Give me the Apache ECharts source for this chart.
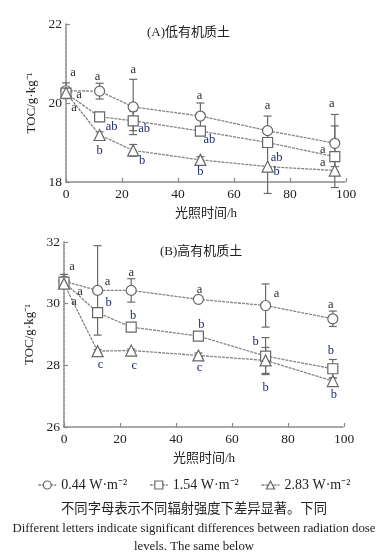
<!DOCTYPE html>
<html><head><meta charset="utf-8">
<script src="https://cdn.jsdelivr.net/npm/echarts@6/dist/echarts.min.js"></script>
<style>html,body{margin:0;padding:0;background:#fff}#c{width:388px;height:556px}</style>
</head><body><div id="c"></div>
<script>
// ---------- DATA ----------
const hours = [0, 12, 24, 48, 72, 96];
const xTicks = [0, 20, 40, 60, 80, 100];
const seriesNames = ['0.44 W·m⁻²', '1.54 W·m⁻²', '2.83 W·m⁻²'];
const yTicksA = [18, 20, 22];
const yTicksB = [26, 28, 30, 32];

// (A) low organic matter soil
const lowOM_044 = [20.31, 20.30, 19.90, 19.67, 19.30, 18.98];
const lowOM_154 = [20.25, 19.65, 19.55, 19.29, 19.00, 18.64];
const lowOM_283 = [20.26, 19.19, 18.80, 18.56, 18.39, 18.29];
const lowOM_044_err = [0.20, 0.20, 0.70, 0.33, 0.37, 0.73];
const lowOM_154_err = [0.10, 0.05, 0.25, 0.08, 0.10, 0.78];
const lowOM_283_err = [0.10, 0.08, 0.15, 0.08, 0.68, 0.10];
const lowOM_044_sig = ['a', 'a', 'a', 'a', 'a', 'a'];
const lowOM_154_sig = ['a', 'ab', 'ab', 'ab', 'ab', 'a'];
const lowOM_283_sig = ['a', 'b', 'b', 'b', 'b', 'a'];

// (B) high organic matter soil
const highOM_044 = [30.73, 30.43, 30.43, 30.14, 29.94, 29.51];
const highOM_154 = [30.70, 29.71, 29.24, 28.95, 28.30, 27.89];
const highOM_283 = [30.65, 28.46, 28.48, 28.32, 28.16, 27.49];
const highOM_044_err = [0.22, 1.45, 0.38, 0.07, 0.70, 0.25];
const highOM_154_err = [0.10, 0.10, 0.08, 0.08, 0.60, 0.30];
const highOM_283_err = [0.10, 0.05, 0.05, 0.08, 0.42, 0.10];
const highOM_044_sig = ['a', 'a', 'a', 'a', 'a', 'a'];
const highOM_154_sig = ['a', 'b', 'b', 'b', 'b', 'b'];
const highOM_283_sig = ['a', 'c', 'c', 'c', 'b', 'b'];

// ---------- LAYOUT (label pixel offsets from each point) ----------
const offA = [
  [[7,-18],[-2,-14],[0,-37],[-1,-20],[0,-25],[-3,-40]],
  [[13,2],[12,10],[11,8],[9,9],[9,15],[-12,-7]],
  [[8,15],[0,16],[9,10],[0,12],[9,5],[-12,-8]]
];
const offB = [
  [[8,-14],[10,-9],[0,-18],[1,-10],[11,-12],[-2,-14]],
  [[16,10],[11,-10],[2,-11],[3,-11],[-10,-14],[-2,-18]],
  [[10,18],[3,14],[3,15],[1,12],[0,27],[1,14]]
];

const SERIF = '"Liberation Serif","Noto Sans CJK SC",serif';
const CJK = '"Liberation Serif","Noto Sans CJK SC",serif';
const AX = '#8a8a8a';
const LINE = '#858585';
const symbols = ['circle', 'rect', 'triangle'];
const symSizes = [10, 10, 11];

function letterColor(t) { return t === 'a' ? '#2a2a2a' : '#1d2b6b'; }

function errRender(params, api) {
  const x = api.value(0), lo = api.value(1), hi = api.value(2);
  const p1 = api.coord([x, hi]), p2 = api.coord([x, lo]);
  const w = 4;
  const st = { stroke: '#6a6a6a', lineWidth: 1.2 };
  return { type: 'group', children: [
    { type: 'line', shape: { x1: p1[0], y1: p1[1], x2: p2[0], y2: p2[1] }, style: st },
    { type: 'line', shape: { x1: p1[0]-w, y1: p1[1], x2: p1[0]+w, y2: p1[1] }, style: st },
    { type: 'line', shape: { x1: p2[0]-w, y1: p2[1], x2: p2[0]+w, y2: p2[1] }, style: st }
  ]};
}

function makeAxes(gridIndex, yMin, yMax) {
  const x = {
    type: 'value', gridIndex, min: 0, max: 100, interval: 20,
    axisLine: { show: true, lineStyle: { color: AX, width: 1.6, type: [3, 1] } },
    axisTick: { show: true, inside: true, length: 4, lineStyle: { color: AX, width: 1.2 } },
    axisLabel: { color: '#222', fontFamily: SERIF, fontSize: 13.5, margin: 6 },
    splitLine: { show: false },
    name: '光照时间/h', nameLocation: 'middle', nameGap: 25,
    nameTextStyle: { color: '#222', fontFamily: CJK, fontSize: 13 }
  };
  const y = {
    type: 'value', gridIndex, min: yMin, max: yMax, interval: 2,
    axisLine: { show: true, lineStyle: { color: AX, width: 1.6, type: [3, 1] } },
    axisTick: { show: true, inside: true, length: 4, lineStyle: { color: AX, width: 1.2 } },
    axisLabel: { color: '#222', fontFamily: SERIF, fontSize: 13.5, margin: 4 },
    splitLine: { show: false },
    name: 'TOC/g·kg⁻¹', nameLocation: 'middle', nameGap: 26, nameRotate: 90,
    nameTextStyle: { color: '#222', fontFamily: SERIF, fontSize: 13 }
  };
  return [x, y];
}

const axA = makeAxes(0, 18, 22);
const axB = makeAxes(1, 26, 32);

function buildSeries(axisIdx, vals, errs, sigs, offs) {
  const out = [];
  vals.forEach((v, s) => {
    out.push({
      type: 'custom', name: seriesNames[s] + '_err', xAxisIndex: axisIdx, yAxisIndex: axisIdx,
      renderItem: errRender, z: 1, silent: true,
      data: hours.map((h, i) => [h, v[i] - errs[s][i], v[i] + errs[s][i]])
    });
  });
  vals.forEach((v, s) => {
    out.push({
      type: 'line', name: seriesNames[s], xAxisIndex: axisIdx, yAxisIndex: axisIdx,
      data: hours.map((h, i) => [h, v[i]]),
      symbol: symbols[s], symbolSize: symSizes[s], showAllSymbol: true,
      lineStyle: { color: LINE, width: 1.3, type: [3, 1] },
      itemStyle: { color: '#fff', borderColor: '#666', borderWidth: 1.2 },
      z: 3, animation: false
    });
  });
  vals.forEach((v, s) => {
    out.push({
      type: 'custom', name: seriesNames[s] + '_sig', xAxisIndex: axisIdx, yAxisIndex: axisIdx,
      z: 5, silent: true,
      data: hours.map((h, i) => [h, v[i]]),
      renderItem: function (params, api) {
        const i = params.dataIndex;
        const p = api.coord([api.value(0), api.value(1)]);
        const t = sigs[s][i];
        return { type: 'text', x: p[0] + offs[s][i][0], y: p[1] + offs[s][i][1],
          style: { text: t, fill: letterColor(t), font: '12.5px ' + SERIF,
            textAlign: 'center', textVerticalAlign: 'middle' } };
      }
    });
  });
  return out;
}

const series = [].concat(
  buildSeries(0, [lowOM_044, lowOM_154, lowOM_283],
    [lowOM_044_err, lowOM_154_err, lowOM_283_err],
    [lowOM_044_sig, lowOM_154_sig, lowOM_283_sig], offA),
  buildSeries(1, [highOM_044, highOM_154, highOM_283],
    [highOM_044_err, highOM_154_err, highOM_283_err],
    [highOM_044_sig, highOM_154_sig, highOM_283_sig], offB)
);

const chart = echarts.init(document.getElementById('c'), null, { renderer: 'canvas' });
chart.setOption({
  animation: false,
  backgroundColor: '#fff',
  grid: [
    { left: 66, top: 24, width: 280, height: 158 },
    { left: 64, top: 242, width: 280, height: 185 }
  ],
  xAxis: [axA[0], axB[0]],
  yAxis: [axA[1], axB[1]],
  legend: {
    data: seriesNames, left: 'center', top: 473, itemWidth: 18, itemHeight: 10, itemGap: 22,
    textStyle: { color: '#222', fontFamily: SERIF, fontSize: 14 },
    itemStyle: { color: '#fff', borderColor: '#666', borderWidth: 1.2 },
    lineStyle: { color: LINE, width: 1.3 }
  },
  graphic: [
    { type: 'text', left: 147, top: 26, style: { text: '(A)低有机质土', fill: '#222', font: '13px ' + CJK } },
    { type: 'text', left: 160, top: 245, style: { text: '(B)高有机质土', fill: '#222', font: '13px ' + CJK } },
    { type: 'text', left: 'center', top: 503, style: { text: '不同字母表示不同辐射强度下差异显著。下同', fill: '#222', font: '13.3px ' + CJK } },
    { type: 'text', left: 'center', top: 522, style: { text: 'Different letters indicate significant differences between radiation dose', fill: '#222', font: '12.8px ' + SERIF } },
    { type: 'text', left: 'center', top: 540, style: { text: 'levels. The same below', fill: '#222', font: '12.8px ' + SERIF } }
  ],
  series
});
</script></body></html>
